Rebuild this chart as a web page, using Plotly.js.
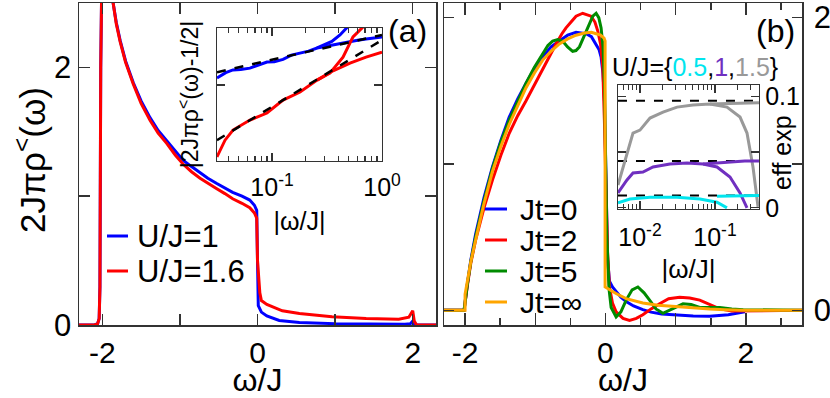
<!DOCTYPE html>
<html><head><meta charset="utf-8">
<script src="https://cdn.plot.ly/plotly-3.0.1.min.js"></script>
<style>body{margin:0;padding:0;background:#fff}#plot{width:830px;height:398px}</style>
</head><body><div id="plot"></div>
<script>
// ---------- Panel (a): main spectra ----------
const wA_U1 = [-2.3,-2.1,-2.06,-2.04,-2.03,-2.02,-1.98,-1.9,-1.86,-1.82,-1.77,-1.7,-1.6,-1.5,-1.385,-1.28,-1.17,-1.06,-0.96,-0.85,-0.74,-0.64,-0.53,-0.42,-0.32,-0.2,-0.1,-0.04,-0.01,0.0,0.01,0.05,0.12,0.28,0.54,1.0,1.5,1.9,1.97,2.0,2.02,2.05,2.3];
const rhoA_U1 = [0,0,0.01,0.05,0.3,2.0,4.0,2.9,2.5,2.35,2.21,2.05,1.88,1.74,1.61,1.51,1.43,1.35,1.28,1.23,1.18,1.14,1.10,1.065,1.03,1.0,0.97,0.93,0.89,0.5,0.15,0.1,0.07,0.035,0.02,0.01,0.006,0.005,0.01,0.03,0.0,0.0,0.0];
const wA_U16 = [-2.3,-2.1,-2.06,-2.04,-2.03,-2.02,-1.98,-1.9,-1.86,-1.82,-1.77,-1.7,-1.6,-1.5,-1.385,-1.28,-1.17,-1.06,-0.96,-0.85,-0.74,-0.64,-0.53,-0.42,-0.32,-0.2,-0.1,-0.04,-0.01,0.0,0.03,0.05,0.12,0.32,0.54,0.96,1.4,1.82,1.95,2.0,2.02,2.05,2.3];
const rhoA_U16 = [0,0,0.01,0.05,0.3,2.0,4.0,2.9,2.5,2.34,2.20,2.04,1.87,1.72,1.59,1.49,1.41,1.32,1.25,1.19,1.14,1.10,1.06,1.02,0.98,0.945,0.91,0.87,0.83,0.5,0.25,0.19,0.16,0.11,0.09,0.065,0.05,0.045,0.06,0.11,0.03,0.0,0.0];

// ---------- Inset (a): |2Jπρ<(ω)-1/2| vs |ω/J| ----------
const wInA_U1 = [0.0316,0.038,0.0442,0.052,0.063,0.075,0.090,0.105,0.126,0.150,0.180,0.215,0.257,0.300,0.359,0.43,0.512,0.60,0.716,0.85,1.0];
const dInA_U1 = [0.113,0.124,0.130,0.131,0.134,0.142,0.149,0.150,0.156,0.168,0.174,0.180,0.190,0.195,0.200,0.207,0.211,0.217,0.222,0.226,0.230];
const wInA_U1b = [0.257,0.30,0.35,0.415,0.481,0.52];
const dInA_U1b = [0.190,0.200,0.213,0.238,0.273,0.29];
const wInA_U16 = [0.0316,0.0374,0.0442,0.063,0.090,0.126,0.180,0.257,0.359,0.512,0.716,1.0];
const dInA_U16 = [0.0288,0.0385,0.0459,0.0546,0.0616,0.0771,0.0886,0.109,0.128,0.146,0.162,0.177];
const wInA_U16b = [0.257,0.336,0.442,0.545,0.671,0.736];
const dInA_U16b = [0.109,0.123,0.162,0.230,0.273,0.315];
const wFit = [0.0316,1.0];
const fitA_U1 = [0.125,0.238];
const fitA_U16 = [0.0385,0.218];

// ---------- Panel (b): time-dependent spectra ----------
const wB_0 = [-2.3,-2.05,-2.014,-1.967,-1.919,-1.85,-1.73,-1.61,-1.49,-1.371,-1.25,-1.133,-1.014,-0.895,-0.776,-0.657,-0.538,-0.419,-0.276,-0.2,-0.133,-0.09,-0.062,-0.035,-0.014,0.0,0.01,0.03,0.057,0.1,0.152,0.22,0.295,0.4,0.533,0.65,0.8,1.01,1.25,1.486,1.75,1.986];
const rhoB_0 = [0,0,0,0.18,0.34,0.52,0.77,0.98,1.16,1.32,1.445,1.55,1.65,1.73,1.80,1.84,1.88,1.90,1.89,1.87,1.82,1.78,1.73,1.62,1.43,1.1,0.75,0.35,0.2,0.16,0.13,0.09,0.06,0.03,0.005,-0.012,-0.025,-0.032,-0.038,-0.04,-0.03,-0.01];
const wB_2 = [-2.3,-2.05,-2.014,-1.967,-1.919,-1.85,-1.73,-1.61,-1.49,-1.371,-1.25,-1.133,-1.014,-0.895,-0.8,-0.704,-0.62,-0.562,-0.49,-0.419,-0.324,-0.205,-0.15,-0.11,-0.07,-0.038,-0.015,0.01,0.03,0.057,0.1,0.152,0.25,0.343,0.44,0.533,0.65,0.771,0.9,1.057,1.2,1.343,1.5,1.629,1.8,1.962,2.2,2.8];
const rhoB_2 = [0,0,0,0.17,0.32,0.48,0.70,0.89,1.06,1.21,1.33,1.43,1.54,1.64,1.73,1.82,1.89,1.93,1.97,2.01,2.03,2.01,1.97,1.91,1.82,1.66,1.3,0.75,0.4,0.16,0.05,-0.01,-0.055,-0.068,-0.055,-0.03,0.01,0.045,0.08,0.09,0.085,0.07,0.035,0.01,-0.005,-0.005,0,0];
const wB_5 = [-2.3,-2.05,-2.014,-1.967,-1.919,-1.85,-1.73,-1.61,-1.49,-1.371,-1.25,-1.133,-1.014,-0.895,-0.82,-0.752,-0.68,-0.61,-0.54,-0.467,-0.42,-0.371,-0.3,-0.229,-0.18,-0.133,-0.095,-0.062,-0.035,-0.014,0.0,0.019,0.05,0.081,0.152,0.22,0.295,0.38,0.462,0.55,0.629,0.72,0.819,0.95,1.105,1.22,1.343,1.5,1.629,1.8,1.962,2.8];
const rhoB_5 = [0,0,0,0.18,0.33,0.50,0.75,0.97,1.15,1.30,1.43,1.55,1.66,1.75,1.81,1.84,1.85,1.84,1.80,1.77,1.775,1.80,1.88,1.96,2.01,2.03,2.0,1.93,1.8,1.55,1.1,0.52,0.15,0.02,-0.045,-0.01,0.07,0.14,0.16,0.12,0.07,0.01,-0.02,0.01,0.045,0.04,0.02,0.02,0.02,0.01,0.005,0];
const wB_inf = [-2.3,-2.0,-2.0,-1.967,-1.919,-1.85,-1.73,-1.61,-1.49,-1.371,-1.25,-1.133,-1.014,-0.895,-0.776,-0.657,-0.538,-0.419,-0.3,-0.2,-0.133,-0.07,-0.02,-0.005,-0.005,0.057,0.15,0.295,0.4,0.533,0.75,1.01,1.25,1.486,1.7,1.962,2.8];
const rhoB_inf = [0,0,0.11,0.2,0.33,0.48,0.73,0.95,1.12,1.27,1.40,1.52,1.62,1.71,1.77,1.82,1.855,1.88,1.895,1.90,1.89,1.88,1.86,1.84,0.16,0.14,0.115,0.08,0.065,0.05,0.035,0.025,0.015,0.01,0.005,0,0];

// ---------- Inset (b): effective exponent ----------
const wInB_15 = [0.00509,0.00671,0.00807,0.0100,0.0136,0.0203,0.0312,0.0509,0.0859,0.1445,0.2158,0.2673,0.3214,0.375];
const eInB_15 = [0.0205,0.0491,0.0670,0.0696,0.0804,0.0857,0.0902,0.0920,0.0929,0.0902,0.0813,0.0670,0.0366,0.0009];
const wInB_15b = [0.0859,0.15,0.25,0.386];
const eInB_15b = [0.0929,0.0935,0.0938,0.094];
const wInB_1 = [0.00509,0.00671,0.00807,0.01096,0.01493,0.0251,0.0424,0.0692,0.1064,0.1585,0.2158,0.2673];
const eInB_1 = [0.0134,0.0250,0.0313,0.0321,0.0366,0.0393,0.0402,0.0393,0.0366,0.0277,0.0134,0.0];
const wInB_1b = [0.0692,0.15,0.25,0.386];
const eInB_1b = [0.0393,0.041,0.042,0.042];
const wInB_05 = [0.00509,0.00736,0.0136,0.0312,0.0631,0.1064,0.1445];
const eInB_05 = [0.0045,0.008,0.0095,0.0095,0.008,0.005,0.0];
const wInB_05b = [0.1064,0.2,0.386];
const eInB_05b = [0.0105,0.011,0.011];
const wRef = [0.00509,0.386];
const refB_15 = [0.096,0.096];
const refB_1 = [0.042,0.042];
const refB_05 = [0.011,0.011];

// tick labels
const mainTickVals = [-2,-1,0,1,2];
const mainTickText = ['-2','','0','','2'];
const yTickVals = [0,1,2];
const yTickText = ['0','','2'];
const inAxTickVals = [0.1,1];
const inAxTickText = ['10<sup>-1</sup>','10<sup>0</sup>'];
const inBxTickVals = [0.01,0.1];
const inBxTickText = ['10<sup>-2</sup>','10<sup>-1</sup>'];
const inByTickVals = [0,0.05,0.1];
const inByTickText = ['0','','0.1'];

function logMinor(lo, hi){ const v=[]; for(let d=lo; d<hi; d++){ for(let m=2;m<=9;m++) v.push(m*Math.pow(10,d)); } return v; }

const FONT = 'Liberation Sans, Arial, Helvetica, sans-serif';
const FR = '#333';
const W = 830, H = 398;
const M = {l:79, r:28, t:3, b:73};
const PW = W - M.l - M.r, PH = H - M.t - M.b;
const px = v => (v - M.l) / PW, py = v => (H - M.b - v) / PH;

const L = (x,y,color,extra) => Object.assign({x:x,y:y,type:'scatter',mode:'lines',line:{color:color,width:3},hoverinfo:'skip',showlegend:false},extra||{});

const mainA = [
  L(wA_U1, rhoA_U1, '#0000ff', {name:'U/J=1', xaxis:'x', yaxis:'y'}),
  L(wA_U16, rhoA_U16, '#ff0000', {name:'U/J=1.6', xaxis:'x', yaxis:'y'})
];
const mainB = [
  L(wB_0, rhoB_0, '#0000ff', {name:'Jt=0', xaxis:'x2', yaxis:'y2'}),
  L(wB_2, rhoB_2, '#ff0000', {name:'Jt=2', xaxis:'x2', yaxis:'y2'}),
  L(wB_5, rhoB_5, '#008b00', {name:'Jt=5', xaxis:'x2', yaxis:'y2'}),
  L(wB_inf, rhoB_inf, '#ffa500', {name:'Jt=∞', xaxis:'x2', yaxis:'y2'})
];
const dashed = {color:'#000',width:2.5,dash:'dash'};
const insets = [
  L(wInA_U1, dInA_U1, '#0000ff', {xaxis:'x3', yaxis:'y3'}),
  L(wInA_U1b, dInA_U1b, '#0000ff', {xaxis:'x3', yaxis:'y3'}),
  L(wInA_U16, dInA_U16, '#ff0000', {xaxis:'x3', yaxis:'y3'}),
  L(wInA_U16b, dInA_U16b, '#ff0000', {xaxis:'x3', yaxis:'y3'}),
  L(wFit, fitA_U1, '#000', {xaxis:'x3', yaxis:'y3', line:dashed}),
  L(wFit, fitA_U16, '#000', {xaxis:'x3', yaxis:'y3', line:dashed}),
  L(wRef, refB_15, '#000', {xaxis:'x4', yaxis:'y4', line:{color:'#000',width:2,dash:'dash'}}),
  L(wRef, refB_1, '#000', {xaxis:'x4', yaxis:'y4', line:{color:'#000',width:2,dash:'dash'}}),
  L(wRef, refB_05, '#000', {xaxis:'x4', yaxis:'y4', line:{color:'#000',width:2,dash:'dash'}}),
  L(wInB_15, eInB_15, '#999999', {xaxis:'x4', yaxis:'y4'}),
  L(wInB_15b, eInB_15b, '#999999', {xaxis:'x4', yaxis:'y4'}),
  L(wInB_1, eInB_1, '#7030c0', {xaxis:'x4', yaxis:'y4'}),
  L(wInB_1b, eInB_1b, '#7030c0', {xaxis:'x4', yaxis:'y4'}),
  L(wInB_05, eInB_05, '#00e5ee', {xaxis:'x4', yaxis:'y4'}),
  L(wInB_05b, eInB_05b, '#00e5ee', {xaxis:'x4', yaxis:'y4'})
];
const traces = mainA.concat(mainB, insets);

// hand-built legends (entries taken from the trace names/colours)
const annotations = [];
const shapes = [];
function addLegend(list, lineX0, lineX1, textX, rowY, fontSize){
  list.forEach((t,i)=>{
    const y = rowY[i];
    shapes.push({type:'line', xref:'paper', yref:'paper', x0:px(lineX0), x1:px(lineX1), y0:py(y), y1:py(y), line:{color:t.line.color, width:3}});
    annotations.push({text:t.name, xref:'paper', yref:'paper', x:px(textX), y:py(y), xanchor:'left', yanchor:'middle', showarrow:false, font:{size:fontSize}});
  });
}
annotations.push({text:'2Jπρ<sup>&lt;</sup>(ω)', xref:'paper', yref:'paper', x:px(30), y:py(160), xanchor:'center', yanchor:'middle', textangle:-90, showarrow:false, font:{size:35}});
addLegend(mainA, 107, 128, 135, [236, 271], 31);
addLegend(mainB, 485, 507, 518, [209, 240, 271, 302], 30);

annotations.push(
  {text:'(a)', xref:'paper', yref:'paper', x:px(386), y:py(31), xanchor:'left', yanchor:'middle', showarrow:false, font:{size:32}},
  {text:'(b)', xref:'paper', yref:'paper', x:px(775), y:py(31), xanchor:'center', yanchor:'middle', showarrow:false, font:{size:32}},
  {text:'U/J={<span style="color:#00e5ee">0.5</span>,<span style="color:#7030c0">1</span>,<span style="color:#999999">1.5</span>}', xref:'paper', yref:'paper', x:px(695), y:py(67), xanchor:'center', yanchor:'middle', showarrow:false, font:{size:25}},
  {text:'eff exp', xref:'paper', yref:'paper', x:px(782), y:py(153), xanchor:'center', yanchor:'middle', textangle:-90, showarrow:false, font:{size:25}}
);

const frame = {showline:true, linecolor:FR, linewidth:1.5, mirror:'allticks', ticks:'inside', tickcolor:FR, tickwidth:1.5, showgrid:false, zeroline:false, automargin:false};

const layout = {
  width:W, height:H, margin:M,
  paper_bgcolor:'#fff', plot_bgcolor:'rgba(0,0,0,0)',
  font:{family:FONT, color:'#000', size:30},
  showlegend:false,
  xaxis: Object.assign({}, frame, {domain:[px(79),px(436)], range:[-2.3,2.3], anchor:'y', tickmode:'array', tickvals:mainTickVals, ticktext:mainTickText, ticklen:11, tickfont:{size:30}, title:{text:'ω/J', font:{size:32}, standoff:7}}),
  yaxis: Object.assign({}, frame, {domain:[0,1], range:[0,2.5], anchor:'x', tickmode:'array', tickvals:yTickVals, ticktext:yTickText, ticklen:11, tickfont:{size:31}}),
  xaxis2: Object.assign({}, frame, {domain:[px(444),px(802)], range:[-2.3,2.8], anchor:'y2', tickmode:'array', tickvals:mainTickVals, ticktext:mainTickText, ticklen:12, tickfont:{size:30}, minor:{tickmode:'linear', tick0:0, dtick:0.5, ticks:'inside', ticklen:7, tickcolor:FR, tickwidth:1.5}, title:{text:'ω/J', font:{size:32}, standoff:7}}),
  yaxis2: Object.assign({}, frame, {domain:[0,1], range:[-0.1,2.1], anchor:'x2', side:'right', tickmode:'array', tickvals:yTickVals, ticktext:yTickText, ticklen:10, ticklabelstandoff:4, tickfont:{size:31}}),
  xaxis3: Object.assign({}, frame, {domain:[px(217),px(382)], type:'log', range:[-1.5,0], anchor:'y3', tickmode:'array', tickvals:inAxTickVals, ticktext:inAxTickText, ticklen:8, ticklabelstandoff:4, linewidth:1.2, tickwidth:1.2, tickfont:{size:25}, minor:{tickmode:'array', tickvals:logMinor(-2,0), ticks:'inside', ticklen:5, tickcolor:FR, tickwidth:1.2}, title:{text:'|ω/J|', font:{size:25}, standoff:12}}),
  yaxis3: Object.assign({}, frame, {domain:[py(161),py(28)], type:'log', range:[-1.571,-0.571], anchor:'x3', tickmode:'array', tickvals:[0.1], showticklabels:false, ticklen:8, linewidth:1.2, tickwidth:1.2, title:{text:'|2Jπρ<sup>&lt;</sup>(ω)-1/2|', font:{size:23}, standoff:10}}),
  xaxis4: Object.assign({}, frame, {domain:[px(618),px(759)], type:'log', range:[-2.293,-0.413], anchor:'y4', tickmode:'array', tickvals:inBxTickVals, ticktext:inBxTickText, ticklen:8, ticklabelstandoff:6, linewidth:1.2, tickwidth:1.2, tickfont:{size:25}, minor:{tickmode:'array', tickvals:logMinor(-3,0), ticks:'inside', ticklen:5, tickcolor:FR, tickwidth:1.2}, title:{text:'|ω/J|', font:{size:26}, standoff:9}}),
  yaxis4: Object.assign({}, frame, {domain:[py(209),py(85)], range:[-0.001,0.11], anchor:'x4', side:'right', tickmode:'array', tickvals:inByTickVals, ticktext:inByTickText, ticklen:8, linewidth:1.2, tickwidth:1.2, tickfont:{size:25}}),
  annotations: annotations,
  shapes: shapes
};

Plotly.newPlot('plot', traces, layout, {staticPlot:true, displayModeBar:false});
</script></body></html>
